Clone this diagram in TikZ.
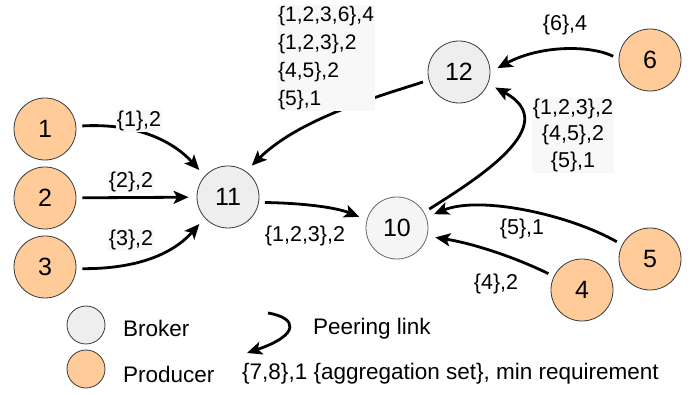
\documentclass[tikz,border=0pt]{standalone}
\usepackage{fontspec}
\setmainfont{Liberation Sans}
\usetikzlibrary{arrows.meta}
\definecolor{prod}{HTML}{FFCC99}
\definecolor{brok}{HTML}{EEEEEE}
\definecolor{brokl}{HTML}{F5F5F5}
\definecolor{edgec}{HTML}{36393D}
\definecolor{greyc}{HTML}{666666}
\definecolor{lbg}{HTML}{F8F8F8}
\begin{document}
\begin{tikzpicture}[x=1pt,y=-1pt,
  nodebase/.style={circle, line width=0.8pt, minimum size=62pt, inner sep=0pt, font=\fontsize{25}{30}\selectfont},
  prodnode/.style={nodebase, draw=edgec, fill=prod},
  broknode/.style={nodebase, draw=edgec, fill=brok},
  broklight/.style={nodebase, draw=greyc, fill=brokl},
  legprod/.style={circle, line width=0.8pt, minimum size=38pt, inner sep=0pt, draw=edgec, fill=prod},
  legbrok/.style={circle, line width=0.8pt, minimum size=38pt, inner sep=0pt, draw=edgec, fill=brok},
  link/.style={line width=2.8pt, -{Stealth[length=15pt,width=13pt,inset=3.5pt]}, shorten <=6pt, shorten >=8pt},
  leglink/.style={line width=2.8pt, -{Stealth[length=15pt,width=13pt,inset=3.5pt]}},
  lbl/.style={font=\fontsize{21.5}{27}\selectfont, inner sep=1pt},
  lblbg/.style={lbl, fill=lbg},
  leg/.style={font=\fontsize{22.5}{27}\selectfont, inner sep=0pt, anchor=west}
]
\useasboundingbox (0,0) rectangle (697,395);

% nodes
\node[prodnode] (n1) at (45,129) {1};
\node[prodnode] (n2) at (45,198) {2};
\node[prodnode] (n3) at (45,267) {3};
\node[broknode] (n11) at (228,197) {11};
\node[broklight] (n10) at (397,228) {10};
\node[broknode] (n12) at (459,72) {12};
\node[prodnode] (n6) at (650,60) {6};
\node[prodnode] (n5) at (650,259) {5};
\node[prodnode] (n4) at (582,290) {4};

% edges
\draw[link] (n1.5) .. controls (135,123) and (172,140) .. (n11.138);
\draw[link] (n2) -- (n11);
\draw[link] (n3.-3) .. controls (135,269) and (172,255) .. (n11.-138);
\draw[link] (n11.-10) .. controls (300,203) and (335,207) .. (n10.165);
\draw[link] (n12.195) .. controls (380,96) and (300,118) .. (n11.55);
\draw[link] (n10.30) .. controls (475,180) and (565,125) .. (n12.-22);
\draw[link] (n6.178) .. controls (590,45) and (540,45) .. (n12.0);
\draw[link] (n5.153) .. controls (570,215) and (480,195) .. (n10.20);
\draw[link] (n4.154) .. controls (510,255) and (470,243) .. (n10.-15);

% labels
\node[lblbg] (l1) at (139,121) {\{1\},2};
\node[lblbg] (l2) at (131,182) {\{2\},2};
\node[lblbg] (l3) at (131,240) {\{3\},2};
\node[lbl] (l1110) at (305,236) {\{1,2,3\},2};
\node[lblbg, align=left, anchor=west, font=\fontsize{21}{28}\selectfont] (ltop) at (277,58) {\{1,2,3,6\},4\\\{1,2,3\},2\\\{4,5\},2\\\{5\},1};
\node[lbl] (l6) at (565,25) {\{6\},4};
\node[lblbg, align=center, font=\fontsize{21.5}{26.5}\selectfont] (lright) at (573,135) {\{1,2,3\},2\\\{4,5\},2\\\{5\},1};
\node[lbl] (l5) at (522,229) {\{5\},1};
\node[lbl] (l4) at (496,284) {\{4\},2};

% legend
\node[legbrok] (lb) at (86,325) {};
\node[legprod] (lp) at (86,369) {};
\node[leg] (tb) at (123,328) {Broker};
\node[leg] (tp) at (123,374) {Producer};
\coordinate (pa) at (268,313);
\coordinate (pb) at (247,353);
\draw[leglink] (pa) .. controls (298,318) and (300,335) .. (pb);
\node[leg] (tl) at (313,329) {Peering link};
\node[leg] (ta) at (242,374) {\{7,8\},1 \{aggregation set\}, min requirement};
\end{tikzpicture}
\end{document}
